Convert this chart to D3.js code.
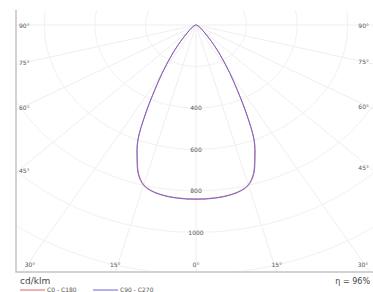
<!DOCTYPE html>
<html>
<head>
<meta charset="utf-8">
<script src="https://cdn.jsdelivr.net/npm/d3@7"></script>
<style>
  body { margin: 0; background: white; }
  text { font-family: "DejaVu Sans", sans-serif; }
</style>
</head>
<body>
<script>
var width = 373
var height = 292

// gamma angles (deg) and intensities in cd/klm
var angles = [0, 2.5, 5, 7.5, 10, 12.5, 15, 17.5, 20, 22.5, 25, 27.5, 30, 32.5, 35, 37.5, 40, 45, 50, 60, 70, 80, 90]
var c0c180 = [838, 838, 836, 833, 827, 817, 797, 753, 678, 598, 470, 352, 266, 196, 142, 100, 70, 38, 24, 11, 5, 2, 0]
var c90c270 = [840, 840, 838, 835, 829, 819, 800, 757, 682, 602, 474, 355, 268, 198, 144, 101, 71, 38, 24, 11, 5, 2, 0]

var ringValues = [200, 400, 600, 800, 1000, 1200, 1400, 1600]
var ringLabels = [400, 600, 800, 1000]
var spokeAngles = [-90, -75, -60, -45, -30, -15, 0, 15, 30, 45, 60, 75, 90]
var seriesNames = ["C0 - C180", "C90 - C270"]
var seriesColors = ["#e06464", "#6a64dc"]
var efficiency = "η = 96%"
var unitLabel = "cd/klm"

var frame = { left: 16, top: 10, right: 373, bottom: 272 }
var cx = 196, cy = 25

var xs = d3.scaleLinear().domain([-1000, 1000]).range([cx - 253, cx + 253])
var ys = d3.scaleLinear().domain([0, 1000]).range([cy, cy + 207.5])

var svg = d3.select("body")
    .append("svg")
    .attr("width", width)
    .attr("height", height)

svg.append("clipPath")
    .attr("id", "frameClip")
    .append("rect")
    .attr("x", frame.left)
    .attr("y", frame.top)
    .attr("width", frame.right - frame.left)
    .attr("height", frame.bottom - frame.top)

var grid = svg.append("g").attr("clip-path", "url(#frameClip)")

grid.selectAll(".ring")
    .data(ringValues)
    .enter()
    .append("ellipse")
    .attr("cx", xs(0))
    .attr("cy", ys(0))
    .attr("rx", (d) => xs(d) - xs(0))
    .attr("ry", (d) => ys(d) - ys(0))
    .attr("fill", "none")
    .attr("stroke", "#f1f1f1")
    .attr("stroke-width", 1)

function pt(a, r) {
    var rad = a * Math.PI / 180
    return [xs(r * Math.sin(rad)), ys(r * Math.cos(rad))]
}

grid.selectAll(".spoke")
    .data(spokeAngles)
    .enter()
    .append("line")
    .attr("x1", xs(0))
    .attr("y1", ys(0))
    .attr("x2", (d) => pt(d, 3000)[0])
    .attr("y2", (d) => pt(d, 3000)[1])
    .attr("stroke", "#eeeeee")
    .attr("stroke-width", 1)

// frame (left + bottom)
svg.append("path")
    .attr("d", "M" + frame.left + "," + frame.top + "V" + frame.bottom + "H" + frame.right)
    .attr("fill", "none")
    .attr("stroke", "#c4c4c4")
    .attr("stroke-width", 1.5)

// angle labels where spokes meet the frame
function frameHit(a) {
    var rad = a * Math.PI / 180
    var dx = Math.sin(rad) * (xs(1) - xs(0))
    var dy = Math.cos(rad) * (ys(1) - ys(0))
    var tBottom = dy > 0 ? (frame.bottom - cy) / dy : Infinity
    var tSide = dx < 0 ? (frame.left - cx) / dx : dx > 0 ? (frame.right - cx) / dx : Infinity
    if (tSide < tBottom) return { side: dx < 0 ? "left" : "right", x: cx + dx * tSide, y: cy + dy * tSide }
    return { side: "bottom", x: cx + dx * tBottom, y: frame.bottom }
}

svg.selectAll(".angleLabel")
    .data(spokeAngles)
    .enter()
    .append("text")
    .attr("font-size", 6)
    .attr("fill", "#555")
    .each(function (d) {
        var h = frameHit(d)
        var t = d3.select(this).text(Math.abs(d) + "°")
        if (h.side === "left") {
            t.attr("x", 19).attr("y", Math.max(h.y - 2, 26)).attr("dy", "0.35em").attr("text-anchor", "start")
        } else if (h.side === "right") {
            t.attr("x", 369).attr("y", Math.max(h.y - 2, 26)).attr("dy", "0.35em").attr("text-anchor", "end")
        } else {
            t.attr("x", Math.max(30, Math.min(363, h.x))).attr("y", 265).attr("dy", "0.35em").attr("text-anchor", "middle")
        }
    })

svg.selectAll(".ringLabel")
    .data(ringLabels)
    .enter()
    .append("text")
    .attr("x", xs(0))
    .attr("y", (d) => ys(d))
    .attr("dy", "0.35em")
    .attr("text-anchor", "middle")
    .attr("font-size", 6)
    .attr("fill", "#555")
    .text((d) => d)

// curves
var line = d3.line()
    .x((d) => d[0])
    .y((d) => d[1])
    .curve(d3.curveCatmullRom)

function curvePoints(vals) {
    var pts = []
    for (var i = angles.length - 1; i > 0; i--) pts.push(pt(-angles[i], vals[i]))
    for (var j = 0; j < angles.length; j++) pts.push(pt(angles[j], vals[j]))
    return pts
}

var series = [c0c180, c90c270]
svg.selectAll(".curve")
    .data(series)
    .enter()
    .append("path")
    .attr("d", (d) => line(curvePoints(d)))
    .attr("fill", "none")
    .attr("stroke", (d, i) => seriesColors[i])
    .attr("stroke-width", 1)
    .attr("opacity", 0.9)

// bottom texts
svg.append("text")
    .attr("x", 20)
    .attr("y", 284)
    .attr("font-size", 9)
    .attr("fill", "#444")
    .text(unitLabel)

svg.append("text")
    .attr("x", 370)
    .attr("y", 284)
    .attr("text-anchor", "end")
    .attr("font-size", 8)
    .attr("fill", "#444")
    .text(efficiency)

var legend = svg.selectAll(".legend")
    .data(seriesNames)
    .enter()
    .append("g")
    .attr("transform", (d, i) => "translate(" + (20 + i * 73) + ",290)")

legend.append("line")
    .attr("x1", 0)
    .attr("x2", 25)
    .attr("stroke", (d, i) => seriesColors[i])
    .attr("stroke-width", 1)

legend.append("text")
    .attr("x", 27)
    .attr("dy", "0.35em")
    .attr("font-size", 6)
    .attr("fill", "#555")
    .text((d) => d)
</script>
</body>
</html>
